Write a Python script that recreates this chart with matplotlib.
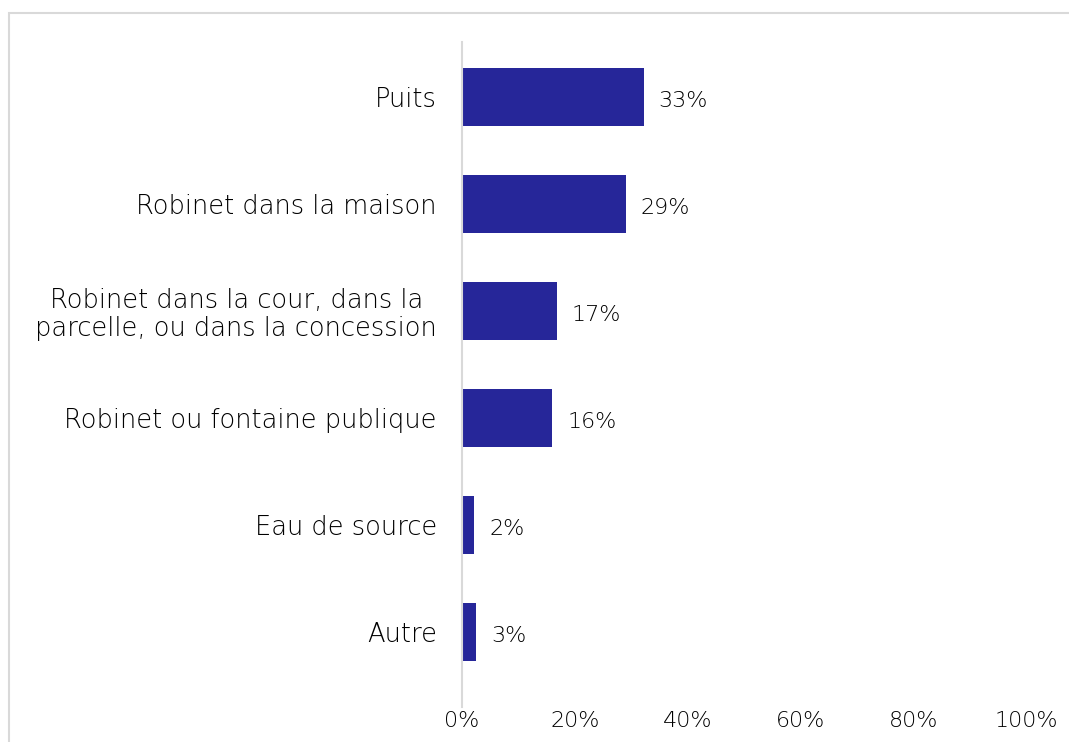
import matplotlib.pyplot as plt
from matplotlib.patches import Rectangle
from matplotlib.ticker import PercentFormatter

plt.rcParams['font.family'] = ['DejaVu Sans']

categories = ["Puits",
              "Robinet dans la maison",
              "Robinet dans la cour, dans la\nparcelle, ou dans la concession",
              "Robinet ou fontaine publique",
              "Eau de source",
              "Autre"]
# valeurs (longueur des barres)
values = [32.2, 29.0, 16.8, 16.0, 2.2, 2.5]
labels = ["33%", "29%", "17%", "16%", "2%", "3%"]

FS_NUM = 16
FS_CAT = 18.5
TXT = '#000000'

fig = plt.figure(figsize=(10.69, 7.42), dpi=100)

# cadre gris clair autour du graphique
fig.patches.append(Rectangle((9 / 1069, -0.1), 1.2, 1 - 13 / 742 + 0.1,
                             transform=fig.transFigure, fill=False,
                             edgecolor='#d9d9d9', linewidth=1.5))

ax = fig.add_axes([462 / 1069, 35 / 742, (1026 - 462) / 1069, (707 - 42) / 742])

pos = list(range(len(categories)))
ax.barh(pos, values, height=0.54, color='#262699')

for y, w, lab in zip(pos, values, labels):
    ax.annotate(lab, (w, y), xytext=(15, -4), textcoords='offset pixels',
                va='center', ha='left', fontsize=FS_NUM, color=TXT,
                fontweight='light')

ax.set_xlim(0, 100)
ax.set_ylim(5.7, -0.51)
ax.set_xticks([0, 20, 40, 60, 80, 100])
ax.xaxis.set_major_formatter(PercentFormatter(decimals=0))
ax.set_yticks(pos)
ax.set_yticklabels(categories, multialignment='center', fontweight='light',
                   linespacing=1.15)
for t in ax.get_xticklabels():
    t.set_fontweight('light')

ax.tick_params(axis='y', length=0, pad=18, labelsize=FS_CAT, colors=TXT)
ax.tick_params(axis='x', length=0, pad=3, labelsize=FS_NUM, colors=TXT)

for s in ['top', 'right', 'bottom']:
    ax.spines[s].set_visible(False)
ax.spines['left'].set_color('#d9d9d9')
ax.spines['left'].set_linewidth(1.5)

plt.savefig("out.png", dpi=100)
